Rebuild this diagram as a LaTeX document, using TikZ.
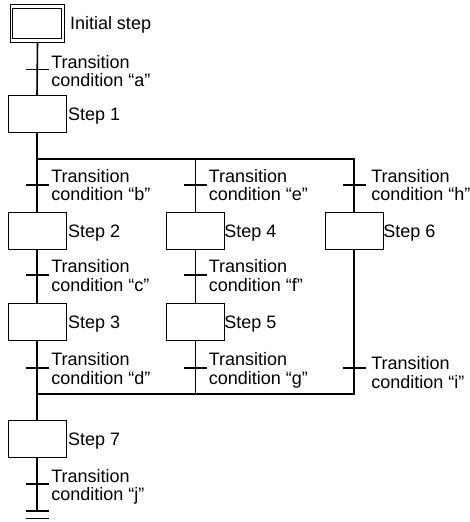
\documentclass[tikz,border=0pt]{standalone}
\usepackage{fontspec}
\setmainfont{Liberation Sans}
\usetikzlibrary{calc}
\begin{document}
\begin{tikzpicture}[x=1pt,y=-1pt,
  stepbox/.style={draw,line width=1pt,minimum width=58pt,minimum height=37pt,inner sep=0pt,outer sep=0pt},
  lbl/.style={inner sep=0pt,outer sep=0pt,anchor=north west,align=left,font=\fontsize{18}{18.3}\selectfont},
  slbl/.style={inner sep=0pt,outer sep=0pt,anchor=base west,font=\fontsize{18}{18.3}\selectfont},
  link/.style={line width=1.6pt},
  bar/.style={line width=1.6pt}]
\useasboundingbox (0,0) rectangle (470,522);
% steps
\node[stepbox,minimum width=54.5pt,minimum height=37.7pt] (init) at (37.5,23.35) {};
\draw[line width=1pt] ($(init.north west)+(2.3,4.3)$) rectangle ($(init.south east)+(-2.8,-3.4)$);
\node[stepbox] (s1) at (37,114) {};
\node[stepbox] (s2) at (37,231.3) {};
\node[stepbox] (s3) at (37,321.5) {};
\node[stepbox] (s7) at (37,439) {};
\node[stepbox] (s4) at (195.3,231.3) {};
\node[stepbox] (s5) at (195.3,321.5) {};
\node[stepbox] (s6) at (354.2,231.3) {};
% coordinates
\coordinate (div1) at (37,159);
\coordinate (div2) at (195.3,159);
\coordinate (div3) at (354.2,159);
\coordinate (conv1) at (37,394);
\coordinate (conv2) at (195.3,394);
\coordinate (conv3) at (354.2,394);
\coordinate (ta) at (37,69.3);
\coordinate (tb) at (37,185);
\coordinate (te) at (195.3,185);
\coordinate (th) at (354.2,185);
\coordinate (tc) at (37,275);
\coordinate (tf) at (195.3,275);
\coordinate (td) at (37,368);
\coordinate (tg) at (195.3,368);
\coordinate (ti) at (354.2,368);
\coordinate (tj) at (37,484);
\coordinate (end1) at (37,511);
\coordinate (end2) at (37,518.3);
% connectors
\draw[link] (init.south) -- (s1.north);
\draw[link] (s1.south) -- (s2.north);
\draw[link] (div1) -- (div3) -- (s6.north);
\draw[link] (div2) -- (s4.north);
\draw[link] (s2.south) -- (s3.north);
\draw[link] (s3.south) -- (s7.north);
\draw[link] (s4.south) -- (s5.north);
\draw[link] (s5.south) -- (conv2);
\draw[link] (s6.south) -- (conv3) -- (conv1);
\draw[link] (s7.south) -- (end1);
% transition bars
\foreach \t in {ta,tb,te,th,tc,tf,td,tg,ti,tj,end1,end2}
  \draw[bar] ($(\t)+(-11.5,0)$) -- ($(\t)+(11.5,0)$);
% labels
\node[slbl] (linit) at (70,29.9) {Initial step};
\node[slbl] (l1) at (68,120.5) {Step 1};
\node[slbl] (l2) at (68,237.8) {Step 2};
\node[slbl] (l3) at (68,328) {Step 3};
\node[slbl] (l7) at (68,445.5) {Step 7};
\node[slbl] (l4) at (224.4,237.8) {Step 4};
\node[slbl] (l5) at (224.4,328) {Step 5};
\node[slbl] (l6) at (383.4,237.8) {Step 6};
\node[lbl] (la) at (51.3,55) {Transition\\condition “a”};
\node[lbl] (lb) at (51.3,169) {Transition\\condition “b”};
\node[lbl] (le) at (208.9,169) {Transition\\condition “e”};
\node[lbl] (lh) at (371.3,169) {Transition\\condition “h”};
\node[lbl] (lc) at (51.3,259.7) {Transition\\condition “c”};
\node[lbl] (lf) at (208.9,259.7) {Transition\\condition “f”};
\node[lbl] (ld) at (51.3,352.7) {Transition\\condition “d”};
\node[lbl] (lg) at (208.9,352.7) {Transition\\condition “g”};
\node[lbl] (li) at (371.3,356.7) {Transition\\condition “i”};
\node[lbl] (lj) at (51.3,469.3) {Transition\\condition “j”};
\end{tikzpicture}
\end{document}
